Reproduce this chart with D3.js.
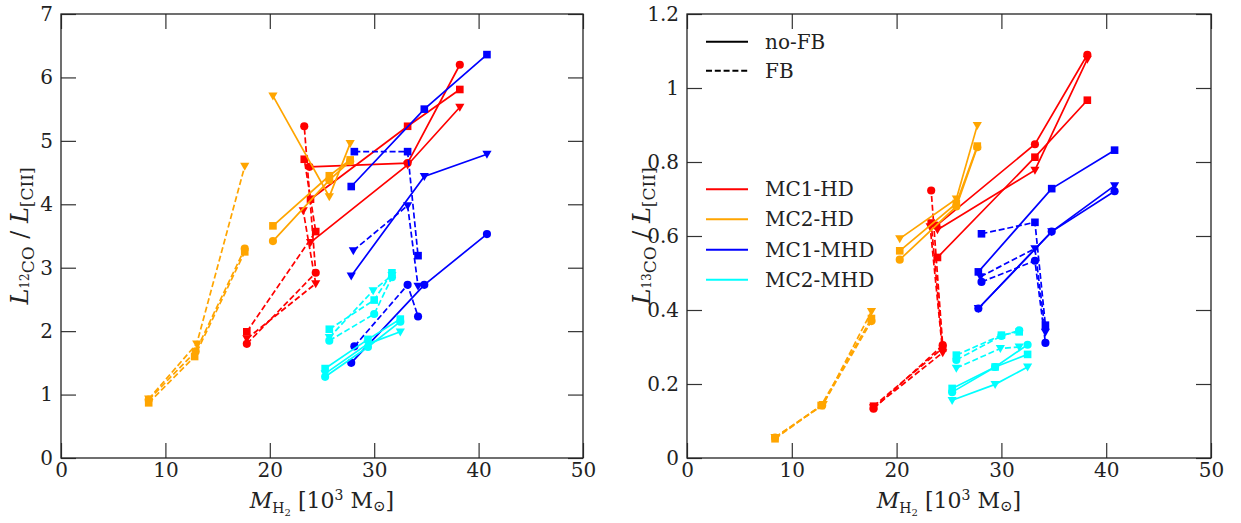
<!doctype html>
<html lang="en">
<head>
<meta charset="utf-8">
<style>
  body { margin: 0; background: #fff; }
  svg { display: block; font-family: "DejaVu Serif", serif; }
  .tick text { font-size: 20px; fill: #222; font-family: "DejaVu Serif", serif; }
  .tick line { stroke: #333; stroke-width: 1.2; }
  .frame { fill: none; stroke: #222; stroke-width: 1.3; }
  .legend-text { font-size: 20px; fill: #222; }
  .axis-label { font-size: 22px; fill: #222; }
</style>
<script src="https://d3js.org/d3.v7.min.js"></script>
</head>
<body>
<script>
// models, colours, markers (marker order in every data row: circle, square, triangle)
const models = ["MC1-HD", "MC2-HD", "MC1-MHD", "MC2-MHD"];
const modelColors = ["#ff0000", "#ffa500", "#0000ff", "#00ffff"];
const markers = ["circle", "square", "triangle"];

// H2 mass [10^3 Msun], one row per model, three snapshots per marker
const massNoFB = [
  [[23.8, 33.2, 38.2], [23.9, 33.2, 38.2], [23.9, 33.2, 38.2]],
  [[20.3, 25.7, 27.7], [20.3, 25.7, 27.7], [20.3, 25.7, 27.7]],
  [[27.8, 34.8, 40.8], [27.8, 34.8, 40.8], [27.8, 34.8, 40.8]],
  [[25.3, 29.4, 32.5], [25.3, 29.4, 32.5], [25.3, 29.4, 32.5]]
];
const massFB = [
  [[17.8, 24.4, 23.3], [17.8, 24.4, 23.3], [17.8, 24.4, 23.2]],
  [[8.4, 12.9, 17.6], [8.4, 12.8, 17.6], [8.4, 13.0, 17.6]],
  [[28.1, 33.2, 34.2], [28.1, 33.2, 34.2], [28.0, 33.2, 34.2]],
  [[25.7, 30.0, 31.7], [25.7, 30.0, 31.7], [25.7, 29.9, 31.7]]
];

// L(12CO) / L([CII])
const co12NoFB = [
  [[4.59, 4.65, 6.2], [4.08, 5.23, 5.81], [3.4, 4.62, 5.53]],
  [[3.42, 4.38, 4.68], [3.66, 4.45, 4.70], [5.71, 4.12, 4.96]],
  [[1.5, 2.73, 3.53], [4.28, 5.5, 6.36], [2.87, 4.44, 4.79]],
  [[1.28, 1.75, 2.15], [1.41, 1.87, 2.19], [1.33, 1.8, 1.99]]
];
const co12FB = [
  [[1.8, 2.92, 5.23], [1.99, 3.57, 4.71], [1.88, 2.75, 3.9]],
  [[0.92, 1.68, 3.3], [0.87, 1.6, 3.25], [0.93, 1.8, 4.6]],
  [[1.76, 2.73, 2.23], [4.83, 4.83, 3.19], [3.27, 3.98, 2.71]],
  [[1.85, 2.27, 2.85], [2.03, 2.49, 2.92], [1.9, 2.64, 2.88]]
];

// L(13CO) / L([CII])
const co13NoFB = [
  [[0.628, 0.848, 1.09], [0.542, 0.813, 0.967], [0.617, 0.778, 1.078]],
  [[0.536, 0.68, 0.84], [0.56, 0.688, 0.843], [0.593, 0.70, 0.899]],
  [[0.404, 0.612, 0.721], [0.503, 0.728, 0.832], [0.404, 0.612, 0.736]],
  [[0.178, 0.246, 0.306], [0.188, 0.246, 0.28], [0.156, 0.199, 0.246]]
];
const co13FB = [
  [[0.133, 0.305, 0.723], [0.14, 0.297, 0.635], [0.136, 0.285, 0.625]],
  [[0.055, 0.142, 0.37], [0.052, 0.142, 0.377], [0.056, 0.145, 0.396]],
  [[0.476, 0.533, 0.311], [0.606, 0.637, 0.359], [0.49, 0.566, 0.34]],
  [[0.265, 0.33, 0.345], [0.278, 0.332, 0.341], [0.243, 0.296, 0.30]]
];

const xTicks = [0, 10, 20, 30, 40, 50];
const yTicks12 = [0, 1, 2, 3, 4, 5, 6, 7];
const yTicks13 = [0, 0.2, 0.4, 0.6, 0.8, 1.0, 1.2];

const width = 1241, height = 523;
const plotTop = 14, plotBottom = 458;

const svg = d3.select("body").append("svg")
  .attr("width", width)
  .attr("height", height);

const markerPath = {
  circle: d3.symbol().type(d3.symbolCircle).size(52)(),
  square: d3.symbol().type(d3.symbolSquare).size(58)(),
  triangle: "M-4.6,-3.4L4.6,-3.4L0,4.6Z"
};

function richText(sel, parts) {
  parts.forEach(p => {
    sel.append("tspan")
      .attr("font-size", p.size || 22)
      .attr("font-style", p.italic ? "italic" : null)
      .attr("dy", p.dy || 0)
      .text(p.t);
  });
}

const panels = [
  { x0: 61, x1: 583, yMax: 7, yTicks: yTicks12, noFB: co12NoFB, fb: co12FB, labelX: 28, iso: "12" },
  { x0: 687, x1: 1211, yMax: 1.2, yTicks: yTicks13, noFB: co13NoFB, fb: co13FB, labelX: 650, iso: "13" }
];

panels.forEach((p, pi) => {
  const x = d3.scaleLinear().domain([0, 50]).range([p.x0, p.x1]);
  const y = d3.scaleLinear().domain([0, p.yMax]).range([plotBottom, plotTop]);
  const g = svg.append("g");

  const fmt = d3.format("~g");
  g.append("g").attr("transform", `translate(0,${plotBottom})`)
    .call(d3.axisBottom(x).tickValues(xTicks).tickSizeInner(-15).tickSizeOuter(0).tickPadding(5).tickFormat(fmt))
    .call(a => a.select(".domain").remove());
  g.append("g").attr("transform", `translate(0,${plotTop})`)
    .call(d3.axisTop(x).tickValues(xTicks).tickSizeInner(-15).tickSizeOuter(0).tickFormat(""))
    .call(a => a.select(".domain").remove());
  g.append("g").attr("transform", `translate(${p.x0},0)`)
    .call(d3.axisLeft(y).tickValues(p.yTicks).tickSizeInner(-15).tickSizeOuter(0).tickPadding(8).tickFormat(fmt))
    .call(a => a.select(".domain").remove());
  g.append("g").attr("transform", `translate(${p.x1},0)`)
    .call(d3.axisRight(y).tickValues(p.yTicks).tickSizeInner(-15).tickSizeOuter(0).tickFormat(""))
    .call(a => a.select(".domain").remove());

  g.append("rect").attr("class", "frame")
    .attr("x", p.x0).attr("y", plotTop)
    .attr("width", p.x1 - p.x0).attr("height", plotBottom - plotTop);

  const line = d3.line().x(d => x(d[0])).y(d => y(d[1]));

  models.forEach((m, mi) => {
    [["noFB", massNoFB, p.noFB], ["FB", massFB, p.fb]].forEach(([kind, mass, vals]) => {
      markers.forEach((mk, ki) => {
        const pts = mass[mi][ki].map((mx, i) => [mx, vals[mi][ki][i]]);
        g.append("path")
          .attr("d", line(pts))
          .attr("fill", "none")
          .attr("stroke", modelColors[mi])
          .attr("stroke-width", 1.7)
          .attr("stroke-dasharray", kind === "FB" ? "6,2.8" : null);
        g.selectAll(null).data(pts).enter().append("path")
          .attr("d", markerPath[mk])
          .attr("transform", d => `translate(${x(d[0])},${y(d[1])})`)
          .attr("fill", modelColors[mi]);
      });
    });
  });

  // x label
  const xl = g.append("text").attr("class", "axis-label")
    .attr("x", (p.x0 + p.x1) / 2).attr("y", 508)
    .attr("text-anchor", "middle");
  richText(xl, [
    { t: "M", italic: true },
    { t: "H", size: 14, dy: 5 },
    { t: "2", size: 10, dy: 3 },
    { t: " [10", dy: -8 },
    { t: "3", size: 14, dy: -8 },
    { t: " M", dy: 8 },
    { t: "⊙", size: 15, dy: 3 },
    { t: "]", dy: -3 }
  ]);

  // y label
  const yl = g.append("text").attr("class", "axis-label")
    .attr("transform", `translate(${p.labelX},${(plotTop + plotBottom) / 2}) rotate(-90)`)
    .attr("text-anchor", "middle");
  richText(yl, [
    { t: "L", italic: true, size: 24 },
    { t: p.iso, size: 12, dy: 1 },
    { t: "CO", size: 17, dy: 5 },
    { t: " / ", size: 24, dy: -6 },
    { t: "L", italic: true, size: 24 },
    { t: "[CII]", size: 17, dy: 5 }
  ]);

  if (pi === 1) {
    const leg = g.append("g");
    const styleRows = [["no-FB", null, 41.7], ["FB", "6,2.8", 70.7]];
    styleRows.forEach(([t, dash, yy]) => {
      leg.append("line").attr("x1", 706).attr("x2", 748).attr("y1", yy).attr("y2", yy)
        .attr("stroke", "#000").attr("stroke-width", 2).attr("stroke-dasharray", dash);
      leg.append("text").attr("class", "legend-text").attr("x", 765).attr("y", yy)
        .attr("dominant-baseline", "central").text(t);
    });
    const rowY = [189.3, 219.3, 249.7, 279.7];
    models.forEach((m, mi) => {
      leg.append("line").attr("x1", 706).attr("x2", 748).attr("y1", rowY[mi]).attr("y2", rowY[mi])
        .attr("stroke", modelColors[mi]).attr("stroke-width", 2);
      leg.append("text").attr("class", "legend-text").attr("x", 765).attr("y", rowY[mi])
        .attr("dominant-baseline", "central").text(m);
    });
  }
});
</script>
</body>
</html>
